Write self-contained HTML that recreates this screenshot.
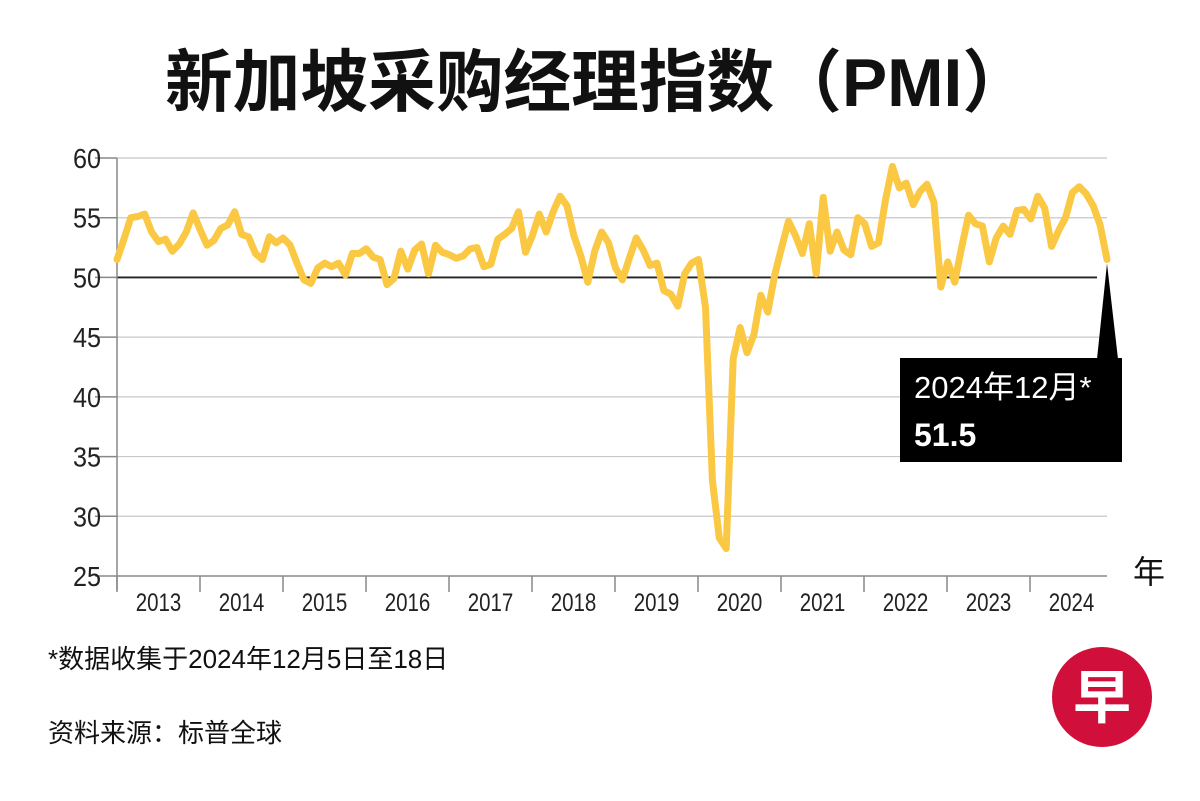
<!DOCTYPE html>
<html><head><meta charset="utf-8"><style>
body{margin:0;background:#fff;}
svg text{font-family:"Liberation Sans","Noto Sans CJK SC",sans-serif;}
</style></head><body>
<svg width="1200" height="796" viewBox="0 0 1200 796">
<text x="165" y="106" textLength="865" lengthAdjust="spacingAndGlyphs" font-size="68" font-weight="bold" fill="#111">新加坡采购经理指数（PMI）</text>
<g id="grid"></g>
<g id="axes"></g>
<path id="line" fill="none" stroke="#fbc843" stroke-width="7" stroke-linejoin="round" stroke-linecap="round"/>
<g id="annot"></g>
<text x="1133" y="583" font-size="32" fill="#111">年</text>
<text x="48" y="668" font-size="26" fill="#111">*数据收集于2024年12月5日至18日</text>
<text x="48" y="742" font-size="26" fill="#111">资料来源：标普全球</text>
<g>
<circle cx="1102" cy="697" r="50" fill="#d0103a"/>
<text x="1102" y="718" text-anchor="middle" font-size="58" font-weight="bold" fill="#fff">早</text>
</g>
</svg>
<script>
const yTicks=[25,30,35,40,45,50,55,60];
const years=["2013","2014","2015","2016","2017","2018","2019","2020","2021","2022","2023","2024"];
const pmi=[51.5,53.2,55,55.1,55.3,53.8,53,53.2,52.2,52.8,53.8,55.4,
54,52.7,53.1,54.1,54.4,55.5,53.6,53.4,52,51.5,53.4,52.9,
53.3,52.7,51.2,49.8,49.5,50.8,51.2,50.9,51.2,50.2,52,52,
52.4,51.7,51.5,49.4,49.9,52.2,50.7,52.3,52.8,50.3,52.7,52.1,
51.9,51.6,51.8,52.4,52.5,50.9,51.1,53.2,53.6,54.1,55.5,52.1,
53.5,55.3,53.8,55.5,56.8,56,53.5,51.8,49.6,52.2,53.8,52.9,
50.8,49.8,51.6,53.3,52.3,51,51.2,48.9,48.6,47.6,50.3,51.2,
51.5,47.5,33,28.2,27.3,43.2,45.8,43.7,45.2,48.5,47.1,50.2,
52.5,54.7,53.5,52,54.5,50.3,56.7,52.2,53.8,52.3,51.9,55,
54.5,52.6,52.9,56.5,59.3,57.5,57.9,56.1,57.2,57.8,56.3,49.2,
51.3,49.6,52.5,55.2,54.5,54.3,51.3,53.3,54.3,53.6,55.6,55.7,
54.9,56.8,55.8,52.6,53.9,55,57.1,57.6,57,56,54.4,51.5];
const latestLabel="2024年12月*";
const latestValue="51.5";
const NS="http://www.w3.org/2000/svg";
const X0=117,X1=1107,Y25=576,Y60=158,YEARW=83;
const y=v=>Y25-(v-25)*(Y25-Y60)/35;
const x=i=>X0+i*(X1-X0)/(pmi.length-1);
function mk(tag,attrs,parent){const e=document.createElementNS(NS,tag);for(const k in attrs)e.setAttribute(k,attrs[k]);parent.appendChild(e);return e;}
const grid=document.getElementById('grid'),axes=document.getElementById('axes');
yTicks.forEach(t=>{
  if(t!==25&&t!==50){const l=mk('line',{x1:X0,x2:X1,y1:y(t),y2:y(t),stroke:'#c8c8c8','stroke-width':1.2},grid);
  
  }
  const tk=mk('line',{x1:X0-22,x2:X0,y1:y(t),y2:y(t),stroke:'#888','stroke-width':1.5},axes);
  
  
  const tx=mk('text',{x:0,y:0,'text-anchor':'end','font-size':28,fill:'#222',transform:`translate(101,${y(t)+10}) scale(0.9,1)`},axes);
  tx.textContent=t;
  
  
});
const ref=mk('line',{x1:X0,x2:1097,y1:y(50),y2:y(50),stroke:'#222','stroke-width':1.8},grid);


const va=mk('line',{x1:X0,x2:X0,y1:Y60,y2:590,stroke:'#888','stroke-width':1.5},axes);


const ha=mk('line',{x1:X0,x2:X1,y1:Y25,y2:Y25,stroke:'#888','stroke-width':1.5},axes);


years.forEach((yr,k)=>{
  const xs=X0+k*YEARW;
  const tk=mk('line',{x1:xs,x2:xs,y1:Y25,y2:592,stroke:'#888','stroke-width':1.5},axes);
  
  
  const tx=mk('text',{x:0,y:0,'text-anchor':'middle','font-size':25,fill:'#222',transform:`translate(${xs+YEARW/2},611) scale(0.82,1)`},axes);
  tx.textContent=yr;
  
  
});
document.getElementById('line').setAttribute('d',pmi.map((v,i)=>(i?'L':'M')+x(i).toFixed(1)+','+y(v).toFixed(1)).join(''));
const an=document.getElementById('annot');
const li=pmi.length-1,lx=x(li),ly=y(pmi[li]);
const tri=mk('polygon',{points:`${lx},${ly+4} ${lx-10},359 ${lx+11},359`,fill:'#000'},an);


const box=mk('rect',{x:900,y:358,width:222,height:104,fill:'#000'},an);


const t1=mk('text',{x:914,y:398,'font-size':31,fill:'#fff'},an);
t1.textContent=latestLabel;


const t2=mk('text',{x:914,y:446,'font-size':32,'font-weight':'bold',fill:'#fff'},an);
t2.textContent=latestValue;


</script>
</body></html>
